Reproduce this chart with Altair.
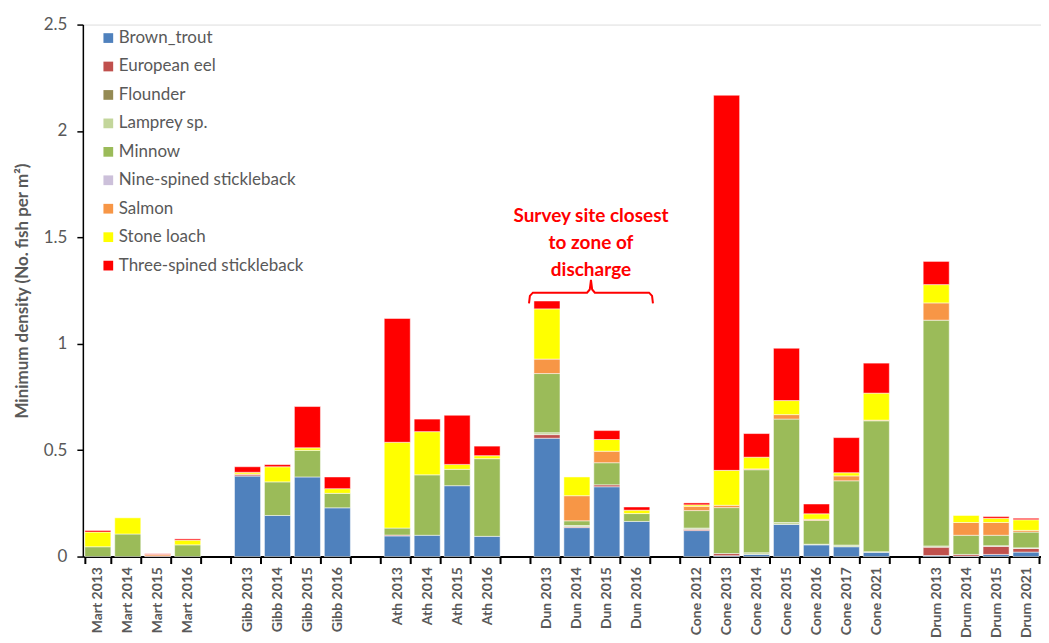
import altair as alt
import pandas as pd

# ---- data -------------------------------------------------------------
categories = ["Mart 2013", "Mart 2014", "Mart 2015", "Mart 2016",
              "Gibb 2013", "Gibb 2014", "Gibb 2015", "Gibb 2016",
              "Ath 2013", "Ath 2014", "Ath 2015", "Ath 2016",
              "Dun 2013", "Dun 2014", "Dun 2015", "Dun 2016",
              "Cone 2012", "Cone 2013", "Cone 2014", "Cone 2015", "Cone 2016", "Cone 2017", "Cone 2021",
              "Drum 2013", "Drum 2014", "Drum 2015", "Drum 2021"]

# x axis order with empty slots between survey sites
axis_order = ["Mart 2013", "Mart 2014", "Mart 2015", "Mart 2016", " ",
              "Gibb 2013", "Gibb 2014", "Gibb 2015", "Gibb 2016", "  ",
              "Ath 2013", "Ath 2014", "Ath 2015", "Ath 2016", "   ",
              "Dun 2013", "Dun 2014", "Dun 2015", "Dun 2016", "    ",
              "Cone 2012", "Cone 2013", "Cone 2014", "Cone 2015", "Cone 2016", "Cone 2017", "Cone 2021", "     ",
              "Drum 2013", "Drum 2014", "Drum 2015", "Drum 2021"]

species = ["Brown_trout", "European eel", "Flounder", "Lamprey sp.", "Minnow",
           "Nine-spined stickleback", "Salmon", "Stone loach", "Three-spined stickleback"]
colors = ["#4F81BD", "#C0504D", "#948A54", "#C3D69B", "#9BBB59",
          "#CCC0DA", "#F79646", "#FFFF00", "#FF0000"]

brown_trout = [0, 0, 0, 0, 0.378, 0.193, 0.374, 0.229, 0.097, 0.100, 0.333, 0.095,
               0.556, 0.136, 0.328, 0.165, 0.122, 0.004, 0.010, 0.151, 0.055, 0.046, 0.020,
               0.005, 0.002, 0.010, 0.021]
european_eel = [0, 0, 0.003, 0, 0.006, 0, 0, 0, 0.004, 0, 0, 0,
                0.017, 0.004, 0.009, 0, 0.006, 0.010, 0, 0, 0, 0, 0,
                0.039, 0.008, 0.038, 0.017]
flounder = [0] * 27
lamprey = [0, 0, 0, 0, 0, 0, 0, 0, 0, 0, 0, 0,
           0.009, 0.006, 0, 0, 0.006, 0, 0.008, 0.009, 0.003, 0.008, 0.003,
           0.006, 0, 0.003, 0.003]
minnow = [0.046, 0.106, 0, 0.055, 0, 0.158, 0.125, 0.068, 0.033, 0.284, 0.077, 0.365,
          0.278, 0.022, 0.104, 0.037, 0.082, 0.216, 0.390, 0.486, 0.112, 0.302, 0.615,
          1.061, 0.090, 0.049, 0.074]
nine_spined = [0] * 27
salmon = [0, 0, 0.007, 0, 0.004, 0, 0, 0, 0, 0, 0, 0,
          0.068, 0.118, 0.054, 0, 0.020, 0.011, 0.004, 0.021, 0.005, 0.023, 0.003,
          0.081, 0.060, 0.060, 0.008]
stone_loach = [0.069, 0.076, 0, 0.022, 0.008, 0.071, 0.012, 0.022, 0.403, 0.203, 0.023, 0.014,
               0.236, 0.088, 0.055, 0.016, 0.007, 0.164, 0.055, 0.066, 0.026, 0.015, 0.127,
               0.086, 0.033, 0.020, 0.050]
three_spined = [0.008, 0, 0.003, 0.006, 0.026, 0.010, 0.194, 0.055, 0.582, 0.059, 0.231, 0.045,
                0.037, 0, 0.042, 0.015, 0.009, 1.763, 0.111, 0.246, 0.046, 0.165, 0.141,
                0.109, 0, 0.008, 0.007]

series = [brown_trout, european_eel, flounder, lamprey, minnow,
          nine_spined, salmon, stone_loach, three_spined]

# annotation (slot units on x, density units on y)
note_text = "Survey site closest\nto zone of\ndischarge"
note_x = [16.97]
note_y = [1.60]
brace_x = [14.9, 14.93, 15.03, 16.84, 16.93, 16.97, 17.01, 17.10, 18.91, 19.01, 19.04]
brace_y = [1.19, 1.225, 1.24, 1.24, 1.255, 1.30, 1.255, 1.24, 1.24, 1.225, 1.19]

# ---- build tables -----------------------------------------------------
rows = []
for si, (sp, vals) in enumerate(zip(species, series)):
    for cat, v in zip(categories, vals):
        if v > 0:
            rows.append({"site": cat, "species": sp, "order": si, "density": v})
df = pd.DataFrame(rows)
brace_df = pd.DataFrame({"x": brace_x, "y": brace_y, "i": list(range(len(brace_x)))})
note_df = pd.DataFrame({"x": note_x, "y": note_y, "t": [note_text]})

FONT = "Lato"
GREY = "#595959"
W, H = 960, 533
ydom = [0, 2.5]

bars = alt.Chart(df).mark_bar(stroke="white", strokeWidth=0.5).encode(
    x=alt.X("site:N", sort=axis_order,
            scale=alt.Scale(domain=axis_order, paddingInner=0.13, paddingOuter=0.065),
            axis=alt.Axis(title=None, tickBand="extent", labelAngle=270,
                          labelFont=FONT, labelFontSize=14, labelFontWeight="bold",
                          labelColor=GREY, labelPadding=3,
                          domainColor="black", domainWidth=2,
                          tickColor="black", tickWidth=2, tickSize=7)),
    y=alt.Y("density:Q", stack="zero",
            scale=alt.Scale(domain=ydom, nice=False),
            axis=alt.Axis(title="Minimum density (No. fish per m²)", values=[0, 0.5, 1, 1.5, 2, 2.5],
                          format="~g", grid=False,
                          labelFont=FONT, labelFontSize=17, labelColor=GREY, labelPadding=10,
                          titleFont=FONT, titleFontSize=17, titleFontWeight="bold",
                          titleColor=GREY, titlePadding=12,
                          domainColor="black", domainWidth=1.5,
                          tickColor="black", tickWidth=1.5, tickSize=6)),
    color=alt.Color("species:N",
                    scale=alt.Scale(domain=species, range=colors),
                    legend=alt.Legend(title=None, orient="none", legendX=17, legendY=5,
                                      symbolType="square", symbolSize=95, symbolStrokeWidth=0,
                                      labelFont=FONT, labelFontSize=17, labelColor=GREY,
                                      rowPadding=10.5, labelOffset=2, labelLimit=400)),
    order=alt.Order("order:Q", sort="ascending"),
)

brace = alt.Chart(brace_df).mark_line(color="#FF0000", strokeWidth=2).encode(
    x=alt.X("x:Q", scale=alt.Scale(domain=[0, 32], nice=False, zero=False), axis=None),
    y=alt.Y("y:Q", scale=alt.Scale(domain=ydom, nice=False), axis=None),
    order="i:Q",
)

note = alt.Chart(note_df).mark_text(color="#FF0000", font=FONT, fontSize=19, fontWeight="bold",
                                    lineBreak="\n", lineHeight=27, baseline="middle",
                                    align="center").encode(
    x=alt.X("x:Q", scale=alt.Scale(domain=[0, 32], nice=False, zero=False), axis=None),
    y=alt.Y("y:Q", scale=alt.Scale(domain=ydom, nice=False), axis=None),
    text="t:N",
)

chart = alt.layer(bars, brace, note).resolve_scale(x="independent", y="independent").properties(
    width=W, height=H, padding={"left": 5, "top": 7, "right": 0, "bottom": 0},
).configure_view(stroke=None).configure(background="white")

chart.save("out.html", embed_options={"renderer": "svg", "actions": False})
